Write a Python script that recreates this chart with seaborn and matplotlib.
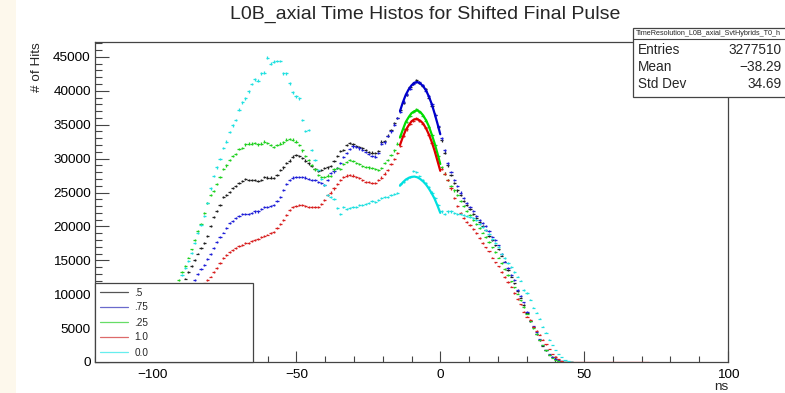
import numpy as np
import matplotlib
matplotlib.use("Agg")
import matplotlib.pyplot as plt
import seaborn as sns
from matplotlib.patches import Rectangle
from matplotlib.lines import Line2D
from matplotlib.ticker import MultipleLocator, FixedLocator

# ---------------- data ----------------
title = "L0B_axial Time Histos for Shifted Final Pulse"
hist_lo, hist_hi, n_bins = -120.0, 100.0, 200   # histogram binning (ns)
first_bin = 16                                   # index of first listed bin

labels = [".5", ".75", ".25", "1.0", "0.0"]

# bin contents in thousands of hits, bins 16..150
counts_05 = [0.6, 1.0, 1.6, 2.3, 3.1, 4.0, 5.0, 6.1, 7.2, 8.3,
             9.5, 10.8, 12.3, 13.3, 14.2, 15.0, 16.0, 16.8, 17.6, 18.6,
             20.1, 21.4, 22.3, 23.2, 24.3, 24.6, 25.1, 25.7, 26.0, 26.4,
             26.7, 27.0, 26.9, 26.8, 26.8, 26.7, 26.9, 27.3, 27.2, 27.2,
             27.1, 27.6, 28.3, 28.7, 29.4, 29.7, 30.3, 30.5, 30.4, 30.1,
             29.7, 29.3, 28.9, 28.5, 28.2, 28.3, 28.6, 28.7, 28.9, 29.6,
             30.4, 31.1, 31.3, 32.0, 32.3, 32.1, 31.9, 31.7, 31.5, 31.3,
             31.0, 30.9, 30.8, 31.1, 32.5, 32.6, 33.4, 34.2, 35.2, 36.0,
             37.1, 38.2, 39.4, 40.5, 41.1, 41.6, 41.2, 40.7, 40.2, 39.0,
             37.8, 36.5, 34.6, 32.7, 30.9, 29.0, 27.6, 26.4, 25.3, 24.6,
             23.8, 23.1, 22.5, 21.9, 21.3, 20.7, 20.1, 19.4, 18.6, 18.0,
             17.2, 16.6, 15.7, 14.8, 13.6, 12.6, 11.6, 10.5, 9.5, 8.4,
             7.2, 6.1, 5.1, 4.1, 3.2, 2.4, 1.7, 1.1, 0.7, 0.4,
             0.2, 0.1, 0.0, 0.0, 0.0]
counts_075 = [0.5, 0.9, 1.4, 2.0, 2.6, 3.4, 4.2, 5.1, 6.0, 7.0,
              7.9, 8.8, 9.7, 10.5, 11.3, 12.1, 13.0, 13.7, 14.3, 15.2,
              15.9, 16.8, 17.7, 18.4, 19.1, 19.7, 20.5, 20.8, 21.2, 21.5,
              21.8, 21.9, 21.9, 22.0, 22.2, 22.2, 22.5, 22.8, 22.9, 23.0,
              23.1, 23.8, 24.4, 25.4, 26.2, 26.8, 27.2, 27.3, 27.3, 27.3,
              27.2, 27.0, 26.9, 26.8, 26.6, 26.4, 26.1, 26.9, 27.9, 28.1,
              28.6, 29.4, 30.2, 30.8, 31.4, 31.8, 31.7, 31.5, 31.3, 31.0,
              30.7, 30.4, 30.3, 30.8, 32.2, 32.4, 33.3, 34.0, 35.0, 36.0,
              36.9, 38.4, 39.5, 40.3, 41.0, 41.3, 41.3, 40.8, 40.0, 39.2,
              38.0, 36.4, 34.8, 33.0, 31.2, 29.3, 28.0, 26.8, 25.9, 25.0,
              24.2, 23.4, 22.9, 22.3, 21.6, 21.0, 20.5, 20.0, 19.3, 18.5,
              18.0, 17.2, 16.0, 14.8, 13.9, 12.8, 12.1, 10.6, 9.8, 8.8,
              7.4, 6.0, 5.3, 4.4, 3.4, 2.5, 1.8, 1.2, 0.8, 0.5,
              0.25, 0.1, 0.05, 0.0, 0.0]
counts_025 = [1.0, 1.6, 2.3, 3.1, 4.0, 5.0, 6.1, 7.3, 8.6, 10.0,
              12.1, 13.3, 14.2, 15.4, 16.6, 18.0, 19.3, 20.4, 22.0, 23.4,
              24.6, 25.2, 26.3, 27.3, 28.5, 29.0, 29.8, 30.4, 30.7, 31.4,
              31.6, 32.1, 32.2, 32.2, 32.3, 32.1, 32.2, 32.5, 32.3, 32.0,
              31.7, 32.0, 32.2, 32.4, 32.8, 32.9, 32.8, 32.5, 32.0, 31.2,
              30.4, 29.8, 29.1, 28.4, 27.6, 27.3, 27.3, 27.5, 27.4, 28.4,
              28.6, 28.5, 29.2, 29.5, 29.8, 29.6, 29.4, 29.2, 28.9, 28.8,
              28.7, 28.6, 28.5, 28.3, 28.6, 29.4, 29.8, 30.5, 31.2, 32.2,
              33.4, 34.4, 35.4, 36.3, 36.9, 37.3, 36.9, 36.3, 35.6, 34.6,
              33.5, 32.0, 30.4, 28.7, 27.8, 26.9, 26.0, 25.3, 24.6, 23.8,
              23.0, 22.3, 21.7, 21.0, 20.4, 19.8, 19.1, 18.4, 17.7, 16.9,
              16.2, 15.4, 14.6, 13.7, 12.8, 11.9, 11.0, 10.1, 9.1, 8.1,
              7.1, 6.0, 5.0, 4.2, 3.3, 2.5, 1.7, 1.1, 0.6, 0.3,
              0.15, 0.05, 0.0, 0.0, 0.0]
counts_10 = [0.8, 1.2, 1.7, 2.2, 2.8, 3.4, 4.1, 4.8, 5.5, 6.2,
             6.9, 7.5, 8.1, 8.7, 9.3, 9.9, 10.5, 11.0, 11.6, 12.1,
             12.6, 13.3, 13.9, 14.6, 15.3, 15.8, 16.2, 16.5, 16.8, 17.1,
             17.3, 17.5, 17.6, 17.8, 18.0, 18.2, 18.4, 18.6, 18.8, 19.0,
             19.2, 19.7, 20.4, 21.0, 21.7, 22.4, 22.8, 23.0, 23.1, 23.1,
             23.0, 22.9, 22.9, 22.8, 22.9, 23.3, 23.9, 24.6, 25.0, 25.6,
             26.3, 26.9, 27.3, 27.5, 27.6, 27.5, 27.3, 27.1, 26.8, 26.6,
             26.5, 26.4, 26.4, 26.8, 27.2, 27.8, 28.3, 29.2, 29.9, 30.8,
             31.9, 33.3, 34.3, 35.1, 35.6, 36.0, 35.6, 35.1, 34.5, 33.5,
             32.3, 31.0, 29.5, 28.5, 27.8, 26.8, 25.6, 24.2, 23.0, 22.0,
             21.3, 20.7, 20.2, 19.6, 19.0, 18.3, 17.6, 16.9, 16.3, 15.4,
             14.7, 14.1, 13.3, 12.5, 11.8, 11.1, 10.2, 9.3, 8.5, 7.4,
             6.7, 6.2, 5.2, 4.6, 4.0, 3.3, 2.6, 1.9, 1.2, 0.8,
             0.4, 0.2, 0.05, 0.0, 0.0,
             0.0, 0.0, 0.0, 0.0, 0.0, 0.0, 0.0, 0.0, 0.0, 0.0, 0.0, 0.0,
             0.0, 0.0, 0.0, 0.0, 0.0, 0.0, 0.0, 0.0, 0.0, 0.0, 0.0, 0.0]
counts_00 = [0.9, 1.5, 2.2, 3.0, 3.9, 5.0, 6.1, 7.3, 8.5, 9.9,
             11.3, 12.8, 13.9, 14.9, 16.1, 17.6, 19.0, 20.2, 21.6, 23.5,
             25.6, 27.4, 28.7, 29.9, 31.6, 32.5, 33.9, 34.9, 35.7, 37.2,
             38.3, 38.9, 39.9, 41.0, 41.7, 41.5, 42.6, 42.7, 44.9, 44.0,
             44.3, 44.4, 44.4, 42.6, 42.6, 41.1, 39.8, 39.2, 38.9, 35.7,
             34.1, 34.2, 31.3, 29.8, 28.3, 27.0, 26.1, 24.6, 24.3, 24.1,
             22.7, 21.9, 22.8, 22.6, 22.7, 22.9, 22.8, 23.2, 23.1, 23.3,
             23.4, 23.7, 23.6, 23.9, 24.2, 24.4, 24.3, 24.6, 24.8, 24.9,
             26.2, 26.6, 27.0, 27.3, 28.2, 28.0, 27.4, 26.9, 26.4, 25.8,
             25.0, 24.2, 23.1, 22.2, 21.9, 22.2, 22.2, 22.0, 21.9, 21.8,
             21.7, 21.6, 21.4, 21.2, 20.9, 20.4, 19.9, 19.5, 18.9, 18.2,
             17.6, 17.0, 16.0, 15.3, 14.6, 14.0, 13.3, 12.6, 12.0, 10.6,
             10.2, 9.2, 8.0, 7.3, 6.4, 5.2, 4.3, 3.3, 2.5, 1.8,
             1.2, 0.7, 0.35, 0.1, 0.0]

# fitted peak curves (thousands of hits) sampled at these times (ns)
fit_x = [-14, -13, -12, -11, -10, -9, -8, -7, -6, -5, -4, -3, -2, -1, 0]
fit_075 = [37.0, 38.3, 39.4, 40.2, 40.8, 41.2, 41.3, 41.1, 40.7, 40.1, 39.2, 38.1, 36.7, 35.2, 33.6]
fit_025 = [33.1, 34.3, 35.4, 36.1, 36.7, 37.0, 37.1, 36.9, 36.4, 35.7, 34.8, 33.6, 32.3, 30.8, 29.2]
fit_10 = [32.0, 33.2, 34.2, 34.9, 35.5, 35.8, 35.8, 35.6, 35.2, 34.5, 33.6, 32.5, 31.2, 29.7, 28.2]
fit_00 = [26.0, 26.5, 26.9, 27.15, 27.3, 27.35, 27.25, 27.0, 26.65, 26.2, 25.6, 24.9, 24.1, 23.1, 22.0]

stats_name = "TimeResolution_L0B_axial_SvtHybrids_T0_h"
stats_rows = [("Entries", "3277510"), ("Mean", "\u221238.29"), ("Std Dev", "34.69")]

series = [counts_05, counts_075, counts_025, counts_10, counts_00]
point_colors = ["#222222", "#2020d8", "#20d020", "#d82020", "#20e0e0"]
legend_colors = ["#555555", "#6a6acc", "#66dd66", "#dd6a6a", "#66eeee"]
fits = [(fit_075, "#0000cc"), (fit_025, "#00dd00"), (fit_10, "#dd0000"), (fit_00, "#00e0e0")]

# ---------------- figure ----------------
sns.set_theme(style="white")
plt.rcParams['font.family'] = ['Liberation Sans', 'DejaVu Sans']

W, H = 785, 393
fig = plt.figure(figsize=(W / 100, H / 100), dpi=100)
fig.patch.set_facecolor("white")
fig.add_artist(Rectangle((0, 0), 16 / W, 1, transform=fig.transFigure,
                         facecolor="#fdf8ec", edgecolor="none", zorder=-5))

ax = fig.add_axes([95 / W, 1 - 362 / H, (728 - 95) / W, (362 - 42) / H])
ax.set_facecolor("white")

edges = np.linspace(hist_lo, hist_hi, n_bins + 1)
centers = 0.5 * (edges[:-1] + edges[1:])
half_w = 0.5 * (edges[1] - edges[0])

for vals, col in zip(series, point_colors):
    y = np.array(vals) * 1000.0
    x = centers[first_bin:first_bin + len(y)]
    ax.errorbar(x, y, xerr=half_w, yerr=np.sqrt(y), fmt="none",
                ecolor=col, elinewidth=0.9, capsize=0, zorder=3)

for fv, col in fits:
    sns.lineplot(x=fit_x, y=np.array(fv) * 1000.0, color=col, lw=1.6,
                 ax=ax, legend=False, zorder=4)

ax.set_xlim(hist_lo, hist_hi)
ax.set_ylim(0, 47200)
ax.xaxis.set_major_locator(FixedLocator([-100, -50, 0, 50, 100]))
ax.xaxis.set_minor_locator(MultipleLocator(10))
ax.yaxis.set_major_locator(MultipleLocator(5000))
ax.yaxis.set_minor_locator(MultipleLocator(1000))
ax.tick_params(axis="both", which="both", direction="in", colors="#444444",
               labelcolor="black", labelsize=9.7, top=False, right=False,
               bottom=True, left=True, width=0.8)
ax.tick_params(axis="x", which="major", length=8, pad=5)
ax.tick_params(axis="x", which="minor", length=4)
ax.tick_params(axis="y", which="major", length=10, pad=3)
ax.tick_params(axis="y", which="minor", length=5)
for s in ax.spines.values():
    s.set_color("#444444")
    s.set_linewidth(0.9)

ax.set_xlabel("ns", fontsize=9.7, loc="right")
ax.xaxis.set_label_coords(1.0, -(381 - 362) / 320)
ax.set_ylabel("# of Hits", fontsize=9.7, loc="top")
ax.yaxis.set_label_coords(-(95 - 43) / 633, 1.0)

fig.text(425 / W, 1 - 14 / H, title, ha="center", va="center", fontsize=14)

# legend
handles = [Line2D([], [], color=c, lw=0.9) for c in legend_colors]
leg = ax.legend(handles, labels, loc="lower left",
                bbox_to_anchor=(0, 0, (253 - 95) / 633, 80 / 320),
                mode="expand", borderaxespad=0, fontsize=7.2,
                handlelength=2.8, handletextpad=0.7, labelspacing=0.5,
                borderpad=0.45, fancybox=False, framealpha=1,
                edgecolor="#444444", frameon=True)
leg.get_frame().set_linewidth(0.9)
leg.set_zorder(10)

# stats box
bx0, by0, by1 = 633 / W, 1 - 97 / H, 1 - 28 / H
fig.add_artist(Rectangle((bx0, by0), 1.02 - bx0, by1 - by0, transform=fig.transFigure,
                         facecolor="white", edgecolor="#444444", lw=0.9, zorder=20))
fig.add_artist(Line2D([bx0, 1.0], [1 - 39 / H] * 2, transform=fig.transFigure,
                      color="#444444", lw=0.8, zorder=21))
fig.text(636 / W, 1 - 33.5 / H, stats_name, ha="left", va="center",
         fontsize=5.2, zorder=22)
for k, (lab, val) in enumerate(stats_rows):
    yy = 1 - (50 + 17 * k) / H
    fig.text(638 / W, yy, lab, ha="left", va="center", fontsize=9.8, zorder=22)
    fig.text(781.5 / W, yy, val, ha="right", va="center", fontsize=9.8, zorder=22)

fig.savefig("out.png", dpi=100)
